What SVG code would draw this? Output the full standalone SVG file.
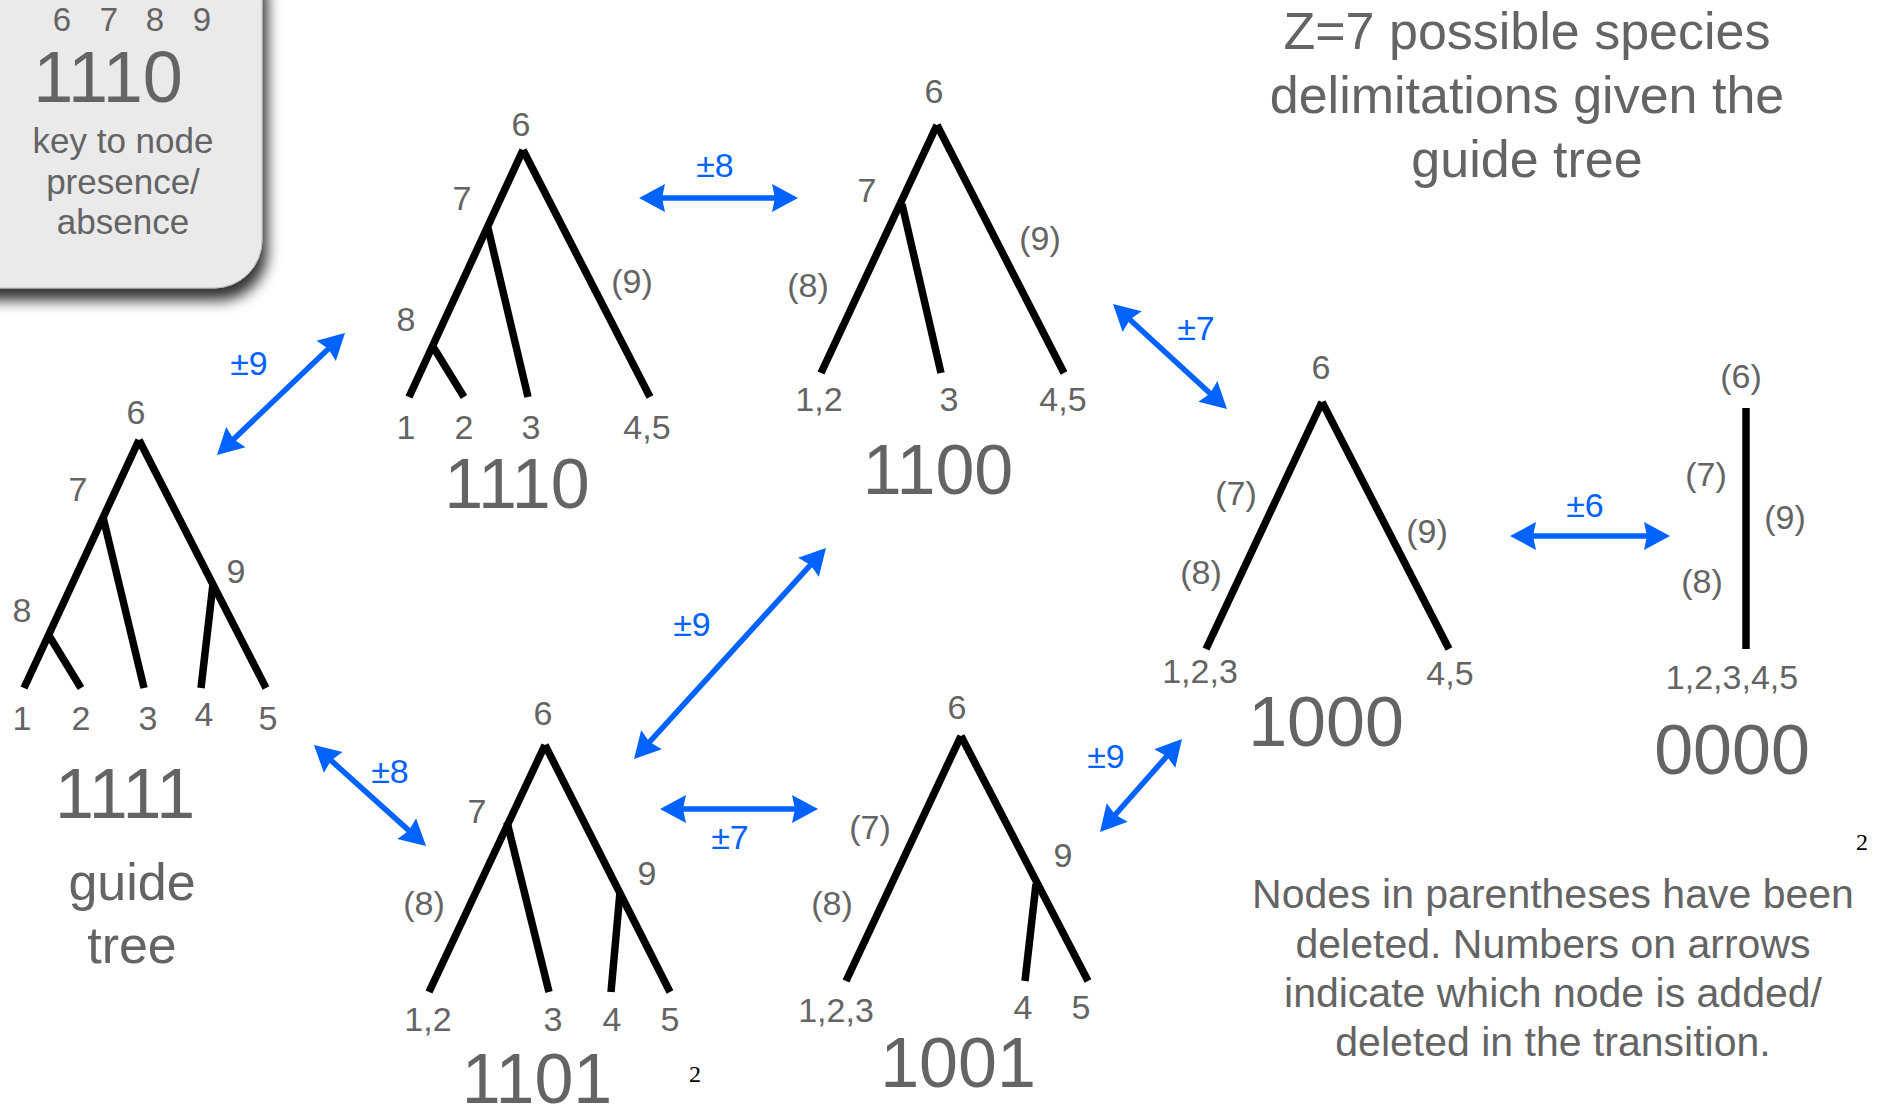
<svg xmlns="http://www.w3.org/2000/svg" width="1885" height="1110" viewBox="0 0 1885 1110">
<defs>
<style>
text{font-family:"Liberation Sans",Arial,sans-serif;fill:#646464;text-anchor:middle}
.n{font-size:34px}
.big{font-size:70px}
.ttl{font-size:52px}
.note{font-size:41px}
.key{font-size:35px}
.al{font-size:34px;fill:#0062ff}
.br{stroke:#000;stroke-width:7.5;fill:none;stroke-linecap:butt}
.ar{stroke:#0062ff;stroke-width:5.5;fill:none;marker-start:url(#ah);marker-end:url(#ah)}
.sup{font-family:"Liberation Serif",serif;fill:#000;font-size:24px}
</style>
<marker id="ah" viewBox="-20 -15 30 30" markerWidth="30" markerHeight="30" refX="0" refY="0" orient="auto-start-reverse" markerUnits="userSpaceOnUse">
<path d="M8,0 L-18,-14 L-15,0 L-18,14 Z" fill="#0062ff"/>
</marker>
<filter id="sh" x="-20%" y="-20%" width="150%" height="150%">
<feDropShadow dx="5" dy="12" stdDeviation="7" flood-color="#000" flood-opacity="0.8"/>
</filter>
</defs>
<rect width="1885" height="1110" fill="#fff"/>

<g id="key">
<rect x="-60" y="-60" width="322" height="348" rx="48" fill="#eaeaea" stroke="#bdbdbd" stroke-width="1" filter="url(#sh)"/>
<text class="n" x="62" y="31" style="font-size:33px">6</text>
<text class="n" x="109" y="31" style="font-size:33px">7</text>
<text class="n" x="155" y="31" style="font-size:33px">8</text>
<text class="n" x="202" y="31" style="font-size:33px">9</text>
<text x="108" y="102" style="font-size:72px">1110</text>
<text class="key" x="123" y="153">key to node</text>
<text class="key" x="123" y="194">presence/</text>
<text class="key" x="123" y="234">absence</text>
</g>

<g id="title">
<text class="ttl" x="1527" y="49">Z=7 possible species</text>
<text class="ttl" x="1527" y="113">delimitations given the</text>
<text class="ttl" x="1527" y="177">guide tree</text>
</g>

<g id="tree1111">
<line class="br" x1="139" y1="440" x2="24" y2="688"/>
<line class="br" x1="48" y1="634" x2="81" y2="688"/>
<line class="br" x1="103" y1="517" x2="144" y2="688"/>
<line class="br" x1="139" y1="440" x2="266" y2="688"/>
<line class="br" x1="213" y1="584" x2="201" y2="688"/>
<text class="n" x="136" y="424">6</text>
<text class="n" x="78" y="501">7</text>
<text class="n" x="22" y="622">8</text>
<text class="n" x="236" y="583">9</text>
<text class="n" x="22" y="730">1</text>
<text class="n" x="81" y="730">2</text>
<text class="n" x="148" y="730">3</text>
<text class="n" x="204" y="726">4</text>
<text class="n" x="268" y="730">5</text>
<text class="big" x="125" y="818">1111</text>
<text class="ttl" x="132" y="900">guide</text>
<text class="ttl" x="132" y="963">tree</text>
</g>

<g id="tree1110">
<line class="br" x1="523" y1="150" x2="409" y2="397"/>
<line class="br" x1="432" y1="345" x2="464" y2="397"/>
<line class="br" x1="488" y1="228" x2="528" y2="397"/>
<line class="br" x1="523" y1="150" x2="650" y2="397"/>
<text class="n" x="521" y="136">6</text>
<text class="n" x="462" y="210">7</text>
<text class="n" x="406" y="331">8</text>
<text class="n" x="632" y="293">(9)</text>
<text class="n" x="406" y="439">1</text>
<text class="n" x="464" y="439">2</text>
<text class="n" x="531" y="439">3</text>
<text class="n" x="647" y="439">4,5</text>
<text class="big" x="517" y="508">1110</text>
</g>

<g id="tree1100">
<line class="br" x1="937" y1="125" x2="821" y2="373"/>
<line class="br" x1="902" y1="204" x2="941" y2="373"/>
<line class="br" x1="937" y1="125" x2="1064" y2="373"/>
<text class="n" x="934" y="103">6</text>
<text class="n" x="867" y="202">7</text>
<text class="n" x="808" y="297">(8)</text>
<text class="n" x="1040" y="250">(9)</text>
<text class="n" x="819" y="411">1,2</text>
<text class="n" x="949" y="411">3</text>
<text class="n" x="1063" y="411">4,5</text>
<text class="big" x="938" y="494">1100</text>
</g>

<g id="tree1000">
<line class="br" x1="1322" y1="402" x2="1206" y2="649"/>
<line class="br" x1="1322" y1="402" x2="1449" y2="649"/>
<text class="n" x="1321" y="379">6</text>
<text class="n" x="1236" y="505">(7)</text>
<text class="n" x="1201" y="584">(8)</text>
<text class="n" x="1427" y="543">(9)</text>
<text class="n" x="1200" y="683">1,2,3</text>
<text class="n" x="1450" y="685">4,5</text>
<text class="big" x="1326" y="746">1000</text>
</g>

<g id="tree0000">
<line class="br" x1="1746" y1="408" x2="1746" y2="649"/>
<text class="n" x="1741" y="388">(6)</text>
<text class="n" x="1706" y="486">(7)</text>
<text class="n" x="1785" y="529">(9)</text>
<text class="n" x="1702" y="593">(8)</text>
<text class="n" x="1732" y="689">1,2,3,4,5</text>
<text class="big" x="1732" y="774">0000</text>
</g>

<g id="tree1101">
<line class="br" x1="545" y1="745" x2="429" y2="992"/>
<line class="br" x1="507" y1="822" x2="549" y2="992"/>
<line class="br" x1="545" y1="745" x2="670" y2="992"/>
<line class="br" x1="620" y1="892" x2="611" y2="992"/>
<text class="n" x="543" y="725">6</text>
<text class="n" x="477" y="823">7</text>
<text class="n" x="424" y="915">(8)</text>
<text class="n" x="647" y="885">9</text>
<text class="n" x="428" y="1031">1,2</text>
<text class="n" x="553" y="1031">3</text>
<text class="n" x="612" y="1031">4</text>
<text class="n" x="670" y="1031">5</text>
<text class="big" x="537" y="1103">1101</text>
<text class="sup" x="695" y="1082">2</text>
</g>

<g id="tree1001">
<line class="br" x1="961" y1="736" x2="846" y2="981"/>
<line class="br" x1="961" y1="736" x2="1088" y2="981"/>
<line class="br" x1="1036" y1="884" x2="1025" y2="981"/>
<text class="n" x="957" y="719">6</text>
<text class="n" x="870" y="839">(7)</text>
<text class="n" x="832" y="915">(8)</text>
<text class="n" x="1063" y="867">9</text>
<text class="n" x="836" y="1022">1,2,3</text>
<text class="n" x="1023" y="1019">4</text>
<text class="n" x="1081" y="1019">5</text>
<text class="big" x="958" y="1087">1001</text>
</g>

<g id="note">
<text class="note" x="1553" y="908">Nodes in parentheses have been</text>
<text class="note" x="1553" y="958">deleted. Numbers on arrows</text>
<text class="note" x="1553" y="1007">indicate which node is added/</text>
<text class="note" x="1553" y="1056">deleted in the transition.</text>
<text class="sup" x="1862" y="850">2</text>
</g>

<g id="connectors">
<line class="ar" x1="222.8" y1="449.5" x2="339.2" y2="338.5"/>
<line class="ar" x1="647" y1="198" x2="790" y2="198"/>
<line class="ar" x1="1118.9" y1="309.4" x2="1221.1" y2="403.6"/>
<line class="ar" x1="1518" y1="536" x2="1662" y2="536"/>
<line class="ar" x1="639.4" y1="753.1" x2="820.6" y2="553.9"/>
<line class="ar" x1="319.9" y1="750.4" x2="420.1" y2="840.6"/>
<line class="ar" x1="668" y1="809" x2="810" y2="809"/>
<line class="ar" x1="1105.3" y1="826" x2="1176.7" y2="745"/>
<text class="al" x="249" y="375">±9</text>
<text class="al" x="715" y="177">±8</text>
<text class="al" x="1196" y="340">±7</text>
<text class="al" x="1585" y="517">±6</text>
<text class="al" x="692" y="636">±9</text>
<text class="al" x="390" y="783">±8</text>
<text class="al" x="730" y="849">±7</text>
<text class="al" x="1106" y="768">±9</text>
</g>
</svg>
